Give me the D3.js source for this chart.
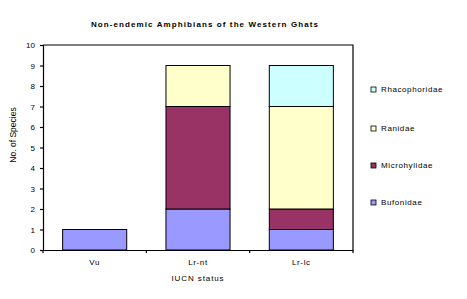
<!DOCTYPE html>
<html>
<head>
<meta charset="utf-8">
<script src="https://cdn.jsdelivr.net/npm/d3@7"></script>
<style>
  body { margin: 0; background: #fff; }
  text { font-family: "Liberation Sans", Arial, sans-serif; }
</style>
</head>
<body>
<div id="chart"></div>
<script>
// categories and families
var categories = ["Vu", "Lr-nt", "Lr-lc"];
var families = ["Bufonidae", "Microhylidae", "Ranidae", "Rhacophoridae"];
var colors = ["#9999FF", "#993366", "#FFFFCC", "#CCFFFF"];

// species counts per family, in category order
var bufonidae = [1, 2, 1];
var microhylidae = [0, 5, 1];
var ranidae = [0, 2, 5];
var rhacophoridae = [0, 0, 2];

var yTicks = [0, 1, 2, 3, 4, 5, 6, 7, 8, 9, 10];

var width = 467, height = 299;
var plotLeft = 43, plotRight = 353, plotTop = 45, plotBottom = 250;

var svg = d3.select('#chart')
  .append('svg')
  .attr('width', width)
  .attr('height', height);

// build table for stacking
var table = categories.map(function(c, i) {
  return {
    cat: c,
    Bufonidae: bufonidae[i],
    Microhylidae: microhylidae[i],
    Ranidae: ranidae[i],
    Rhacophoridae: rhacophoridae[i]
  };
});
var stacked = d3.stack().keys(families)(table);

var x = d3.scaleBand()
  .domain(categories)
  .range([plotLeft, plotRight])
  .paddingInner(0.38)
  .paddingOuter(0.19);

var y = d3.scaleLinear()
  .domain([0, 10])
  .range([plotBottom, plotTop]);

// plot area frame (top and right)
svg.append('path')
  .attr('d', 'M' + plotLeft + ',' + plotTop + 'H' + plotRight + 'V' + plotBottom)
  .attr('fill', 'none')
  .attr('stroke', '#000')
  .attr('stroke-width', 1.2);

// bars
stacked.forEach(function(layer, k) {
  svg.append('g')
    .selectAll('rect')
    .data(layer.filter(function(d) { return d[1] - d[0] > 0; }))
    .join('rect')
    .attr('x', function(d) { return x(d.data.cat); })
    .attr('width', x.bandwidth())
    .attr('y', function(d) { return y(d[1]); })
    .attr('height', function(d) { return y(d[0]) - y(d[1]); })
    .attr('fill', colors[k])
    .attr('stroke', '#000')
    .attr('stroke-width', 1);
});

// Y axis
var yAxis = svg.append('g')
  .attr('transform', 'translate(' + plotLeft + ',0)')
  .call(d3.axisLeft(y).tickValues(yTicks).tickSize(3).tickPadding(5));
yAxis.selectAll('text').style('font-size', '8px').attr('fill', '#000');
yAxis.selectAll('line, path').attr('stroke', '#000').attr('stroke-width', 1.2);

// X axis
var xAxis = svg.append('g')
  .attr('transform', 'translate(0,' + plotBottom + ')')
  .call(d3.axisBottom(x).tickSize(0).tickPadding(9));
xAxis.select('.domain').attr('stroke', '#000').attr('stroke-width', 1.2);
xAxis.selectAll('text').style('font-size', '8px').style('letter-spacing', '0.6px').attr('fill', '#000');

// category dividers below axis
var dividers = d3.range(categories.length + 1).map(function(i) { return plotLeft + i * (plotRight - plotLeft) / categories.length; });
svg.append('g')
  .selectAll('line')
  .data(dividers)
  .join('line')
  .attr('x1', function(d) { return d; })
  .attr('x2', function(d) { return d; })
  .attr('y1', plotBottom)
  .attr('y2', plotBottom + 3)
  .attr('stroke', '#000')
  .attr('stroke-width', 1.2);

// title
svg.append('text')
  .attr('x', 205)
  .attr('y', 27)
  .style('text-anchor', 'middle')
  .style('font-size', '8px')
  .style('font-weight', 'bold')
  .style('letter-spacing', '1.1px')
  .text('Non-endemic Amphibians of the Western Ghats');

// axis titles
svg.append('text')
  .attr('x', 198)
  .attr('y', 281)
  .style('text-anchor', 'middle')
  .style('font-size', '8px')
  .style('letter-spacing', '0.9px')
  .text('IUCN status');

svg.append('text')
  .attr('transform', 'translate(16,135) rotate(-90)')
  .style('text-anchor', 'middle')
  .style('font-size', '8.5px')
  .text('No. of Species');

// legend (top to bottom: reverse order)
var legendY = [89, 128, 165, 202];
var legendItems = families.slice().reverse();
var legendColors = colors.slice().reverse();
var legend = svg.append('g');
legendItems.forEach(function(name, i) {
  legend.append('rect')
    .attr('x', 371)
    .attr('y', legendY[i] - 2)
    .attr('width', 5)
    .attr('height', 5)
    .attr('fill', legendColors[i])
    .attr('stroke', '#000')
    .attr('stroke-width', 0.8);
  legend.append('text')
    .attr('x', 381)
    .attr('y', legendY[i] + 3)
    .style('font-size', '8px')
    .style('letter-spacing', '0.6px')
    .text(name);
});
</script>
</body>
</html>
